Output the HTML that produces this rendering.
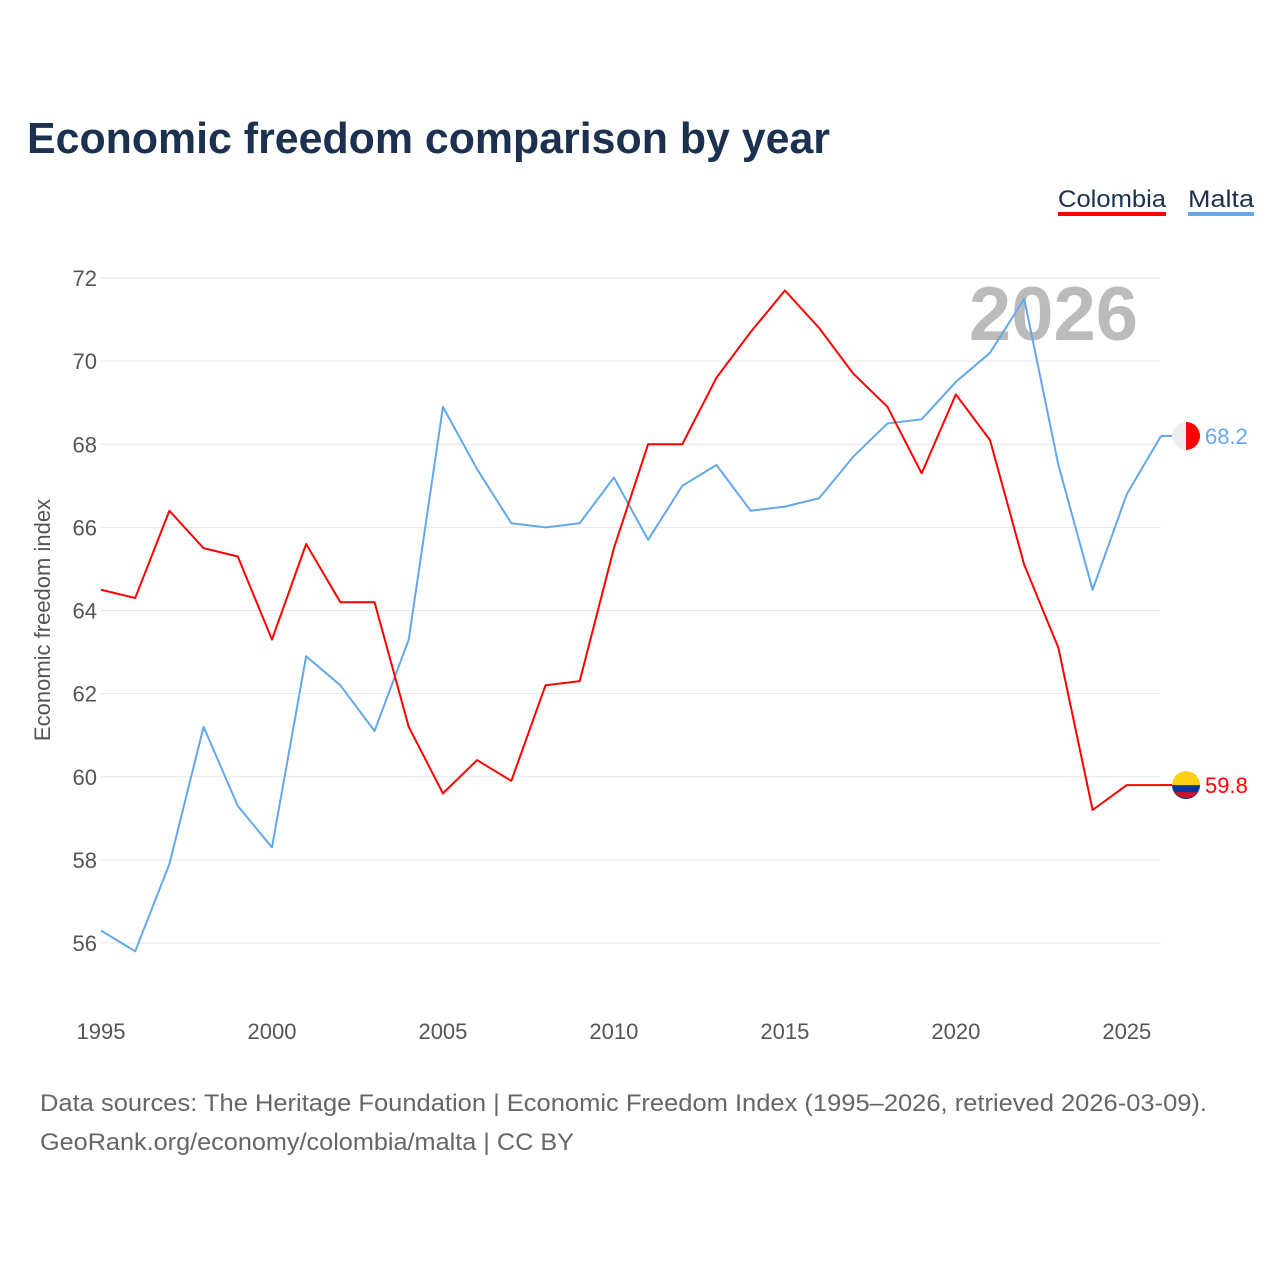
<!DOCTYPE html>
<html><head><meta charset="utf-8"><style>
body{margin:0;background:#fff;font-family:"Liberation Sans",sans-serif}
svg text{font-family:"Liberation Sans",sans-serif}
</style></head><body>
<svg id="c" width="1280" height="1280" xmlns="http://www.w3.org/2000/svg">
<text x="27" y="153" font-size="44" font-weight="bold" fill="#1c3150" textLength="803" lengthAdjust="spacingAndGlyphs">Economic freedom comparison by year</text>
<g><text x="1058" y="207" font-size="24" fill="#1c3150" textLength="108" lengthAdjust="spacingAndGlyphs">Colombia</text><rect x="1058" y="212" width="108" height="4" fill="#f00"/></g>
<g><text x="1188" y="207" font-size="24" fill="#1c3150" textLength="66" lengthAdjust="spacingAndGlyphs">Malta</text><rect x="1188" y="212" width="66" height="4" fill="#64a8ea"/></g>
<text x="1138" y="340" font-size="76" font-weight="bold" fill="#bbb" text-anchor="end">2026</text>
<text transform="translate(50,620) rotate(-90)" font-size="22" fill="#555" text-anchor="middle">Economic freedom index</text>
<text x="40" y="1111" font-size="24" fill="#666" textLength="1167" lengthAdjust="spacingAndGlyphs">Data sources: The Heritage Foundation | Economic Freedom Index (1995–2026, retrieved 2026-03-09).</text>
<text x="40" y="1150" font-size="24" fill="#666" textLength="534" lengthAdjust="spacingAndGlyphs">GeoRank.org/economy/colombia/malta | CC BY</text>
</svg>
<script>
const years=[1995,1996,1997,1998,1999,2000,2001,2002,2003,2004,2005,2006,2007,2008,2009,2010,2011,2012,2013,2014,2015,2016,2017,2018,2019,2020,2021,2022,2023,2024,2025,2026];
const colombia=[64.5,64.3,66.4,65.5,65.3,63.3,65.6,64.2,64.2,61.2,59.6,60.4,59.9,62.2,62.3,65.5,68.0,68.0,69.6,70.7,71.7,70.8,69.7,68.9,67.3,69.2,68.1,65.1,63.1,59.2,59.8,59.8];
const malta=[56.3,55.8,57.9,61.2,59.3,58.3,62.9,62.2,61.1,63.3,68.9,67.4,66.1,66.0,66.1,67.2,65.7,67.0,67.5,66.4,66.5,66.7,67.7,68.5,68.6,69.5,70.2,71.5,67.5,64.5,66.8,68.2];
const yTicks=[56,58,60,62,64,66,68,70,72];
const xTicks=[1995,2000,2005,2010,2015,2020,2025];
const svg=document.getElementById('c');const NS='http://www.w3.org/2000/svg';
const X=v=>101+(v-1995)*(1161-101)/31;
const Y=v=>278+(72-v)*(943-278)/16;
function mk(t,a){const e=document.createElementNS(NS,t);for(const k in a)e.setAttribute(k,a[k]);svg.appendChild(e);return e;}
yTicks.forEach(v=>{
 const l=mk('line',{x1:101,x2:1161,y1:Y(v),y2:Y(v),stroke:'#e6e6e6','stroke-width':1});
 
 
 const t=mk('text',{x:97,y:Y(v)+8,'font-size':22,fill:'#555','text-anchor':'end'});t.textContent=v;
 
 
});
xTicks.forEach(v=>{
 const t=mk('text',{x:X(v),y:1039,'font-size':22,fill:'#555','text-anchor':'middle'});t.textContent=v;
 
 
});
function series(d,col,name){
 const p=mk('polyline',{points:d.map((v,i)=>X(years[i])+','+Y(v)).join(' '),fill:'none',stroke:col,'stroke-width':2,'stroke-linejoin':'round'});
 
 
 const last=d[d.length-1],ly=Y(last);
 mk('line',{x1:1161,x2:1172,y1:ly,y2:ly,stroke:col,'stroke-width':2});
 const c=mk('circle',{cx:1186,cy:ly,r:14,fill:name=='colombia'?'#fcd116':'#eee'});
 
 
 if(name=='colombia'){mk('path',{d:`M1172 ${ly} h28 a14 14 0 0 1 -28 0z`,fill:'#003893'});mk('path',{d:`M1174.5 ${ly+7} h23 a14 14 0 0 1 -23 0z`,fill:'#ce1126'});}
 else mk('path',{d:`M1186 ${ly-14} a14 14 0 0 1 0 28z`,fill:'#f00'});
 const t=mk('text',{x:1205,y:ly+8,'font-size':22,fill:col});t.textContent=last.toFixed(1);
 
 
}
series(malta,'#64a8ea','malta');
series(colombia,'#f00','colombia');
</script>
</body></html>
